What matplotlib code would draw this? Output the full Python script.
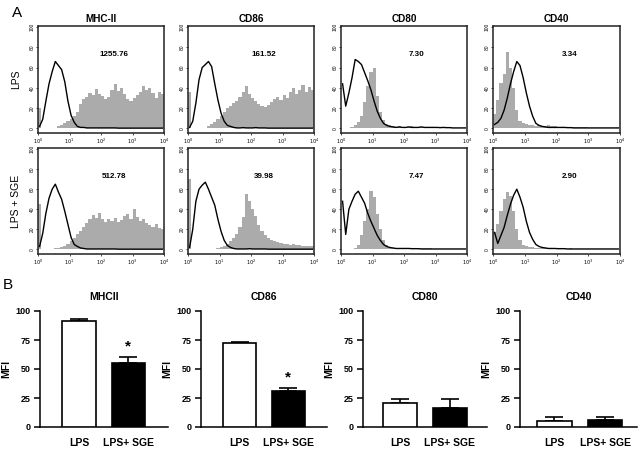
import numpy as np
import matplotlib
matplotlib.use("Agg")
import matplotlib.pyplot as plt

plt.rcParams['font.family'] = ['Liberation Sans', 'DejaVu Sans']

# ---- panel A: flow cytometry histograms (log10 fluorescence, 0.1-decade bins) ----
markers_a = ['MHC-II', 'CD86', 'CD80', 'CD40']
rows_a = ['LPS', 'LPS + SGE']
mfi_text = [['1255.76', '161.52', '7.30', '3.34'],
            ['512.78', '39.98', '7.47', '2.90']]
log_edges = np.linspace(0, 4, 41)

# stained sample (grey filled)
lps_mhc_fill = [20, 0, 0, 0, 0, 0, 2, 3, 5, 7, 9, 12, 16, 24, 29, 31, 35, 33, 39, 34,
                32, 29, 31, 38, 44, 37, 40, 34, 29, 27, 30, 33, 36, 42, 38, 40, 35, 30, 36, 34]
lps_cd86_fill = [36, 0, 0, 0, 0, 0, 2, 4, 6, 9, 12, 16, 20, 22, 25, 27, 31, 36, 42, 34,
                 30, 27, 24, 22, 21, 23, 26, 29, 31, 28, 33, 30, 36, 40, 34, 38, 43, 36, 41, 38]
lps_cd80_fill = [0, 0, 0, 1, 3, 6, 12, 26, 42, 56, 60, 32, 16, 8, 4, 3, 2, 1.5, 2, 1,
                 1.5, 1, 2, 1, 1.5, 1, 1, 1.5, 1, 1, 0.5, 0.5, 0.8, 0.5, 0.5, 0.5, 0.5, 0.5, 0.5, 0.5]
lps_cd40_fill = [14, 28, 45, 54, 75, 60, 40, 18, 7, 5, 4, 3, 3, 2, 3, 2, 2, 3, 2, 2,
                 1.5, 1, 1.5, 1, 1, 1.5, 1, 1, 1, 1, 0.8, 0.8, 0.5, 0.5, 0.5, 0.5, 0.5, 0.5, 0.5, 0.5]
sge_mhc_fill = [45, 0, 0, 0, 0, 1, 1, 2, 3, 5, 8, 11, 15, 18, 22, 26, 30, 34, 31, 36,
                30, 27, 30, 28, 31, 27, 29, 33, 35, 30, 40, 32, 28, 30, 26, 24, 22, 25, 21, 20]
sge_cd86_fill = [70, 0, 0, 0, 0, 0, 0, 0, 0, 1, 2, 3, 5, 8, 11, 15, 22, 32, 55, 48,
                 40, 33, 24, 18, 14, 11, 9, 8, 7, 6, 5, 5, 4, 5, 4, 4, 3, 3, 3, 3]
sge_cd80_fill = [0, 0, 0, 0, 1, 4, 14, 28, 40, 58, 52, 35, 20, 9, 4, 2, 1.5, 1, 1.5, 1,
                 1, 1, 1.5, 1, 1, 1, 1, 1, 1, 0.5, 0.5, 0.5, 0.5, 0.5, 0.5, 0.5, 0.5, 0.5, 0.5, 0.5]
sge_cd40_fill = [17, 25, 38, 50, 57, 53, 38, 20, 9, 4, 3, 2, 2, 1.5, 1.5, 1, 1.5, 1, 1, 1,
                 1, 1, 1, 0.8, 1, 0.8, 0.8, 0.5, 0.5, 0.5, 0.5, 0.5, 0.5, 0.5, 0.5, 0.5, 0.5, 0.5, 0.5, 0.5]

# isotype control (black outline)
lps_mhc_iso = [2, 9, 27, 44, 56, 66, 62, 58, 46, 27, 13, 6, 2, 1, 1, 0.5, 0.5, 0.5, 0.5, 0.5,
               0.5, 0.5, 0.5, 0.5, 0.5, 0.3, 0.3, 0.3, 0.3, 0.3, 0.3, 0.3, 0.3, 0.3, 0.3, 0.3, 0.3, 0.3, 0.3, 0.3]
lps_cd86_iso = [1, 7, 25, 48, 60, 63, 66, 61, 44, 28, 15, 7, 3, 2, 1, 0.5, 0.5, 0.8, 0.5, 0.5,
                0.5, 0.8, 0.5, 0.5, 0.5, 0.3, 0.3, 0.3, 0.3, 0.3, 0.3, 0.3, 0.3, 0.3, 0.3, 0.3, 0.3, 0.3, 0.3, 0.3]
lps_cd80_iso = [44, 22, 35, 50, 68, 66, 63, 55, 47, 38, 27, 17, 10, 5, 3, 2, 1.5, 1, 1.5, 1,
                1, 1.5, 1, 1, 1, 1.5, 1, 1, 1, 1, 1, 0.8, 1, 0.8, 0.8, 0.5, 0.5, 0.5, 0.5, 0.5]
lps_cd40_iso = [4, 6, 10, 18, 30, 44, 56, 66, 62, 50, 35, 22, 12, 5, 3, 2, 1.5, 1, 1, 1,
                1, 1, 1, 0.8, 0.8, 0.5, 0.5, 0.5, 0.5, 0.5, 0.5, 0.5, 0.5, 0.5, 0.5, 0.5, 0.5, 0.5, 0.5, 0.5]
sge_mhc_iso = [3, 16, 36, 51, 60, 65, 57, 50, 38, 25, 12, 5, 3, 1.5, 1, 0.5, 0.5, 0.5, 0.5, 0.5,
               0.5, 0.5, 0.5, 0.5, 0.5, 0.3, 0.3, 0.3, 0.3, 0.3, 0.3, 0.3, 0.3, 0.3, 0.3, 0.3, 0.3, 0.3, 0.3, 0.3]
sge_cd86_iso = [2, 20, 48, 60, 64, 67, 60, 52, 44, 30, 18, 9, 4, 2, 1, 0.5, 0.5, 0.5, 0.5, 0.8,
                0.5, 0.5, 0.5, 0.5, 0.5, 0.3, 0.3, 0.3, 0.3, 0.3, 0.3, 0.3, 0.3, 0.3, 0.3, 0.3, 0.3, 0.3, 0.3, 0.3]
sge_cd80_iso = [48, 15, 40, 48, 55, 58, 52, 46, 36, 28, 21, 14, 9, 5, 3, 2, 1.5, 1, 1, 1,
                1, 1, 0.8, 0.8, 0.8, 0.5, 0.5, 0.5, 0.5, 0.5, 0.5, 0.5, 0.5, 0.5, 0.5, 0.5, 0.5, 0.5, 0.5, 0.5]
sge_cd40_iso = [17, 6, 14, 22, 34, 45, 54, 60, 52, 42, 28, 17, 10, 5, 3, 2, 1.5, 1, 1, 1,
                0.8, 0.8, 0.8, 0.5, 0.5, 0.5, 0.5, 0.5, 0.5, 0.5, 0.5, 0.5, 0.5, 0.5, 0.5, 0.5, 0.5, 0.5, 0.5, 0.5]

fills = [[lps_mhc_fill, lps_cd86_fill, lps_cd80_fill, lps_cd40_fill],
         [sge_mhc_fill, sge_cd86_fill, sge_cd80_fill, sge_cd40_fill]]
isos = [[lps_mhc_iso, lps_cd86_iso, lps_cd80_iso, lps_cd40_iso],
        [sge_mhc_iso, sge_cd86_iso, sge_cd80_iso, sge_cd40_iso]]

# ---- panel B: MFI bar charts ----
markers_b = ['MHCII', 'CD86', 'CD80', 'CD40']
groups_b = ['LPS', 'LPS+ SGE']
mfi_lps = [91, 72.5, 21, 5]
mfi_sge = [55, 31, 16, 6]
err_lps = [2, 0.6, 3, 4]
err_sge = [5, 2.5, 8, 3]
signif = [True, True, False, False]

W, H = 640, 449
fig = plt.figure(figsize=(W / 100, H / 100), dpi=100)


def px_axes(x0, y0, x1, y1):
    # box given in pixel coords (top-left origin)
    return fig.add_axes([x0 / W, 1 - y1 / H, (x1 - x0) / W, (y1 - y0) / H])


col_x = [(38, 164), (188, 314), (341, 467), (493, 620)]
row_y = [(26, 133), (148, 254)]
grey = '#ababab'
bin_mid = (log_edges[:-1] + log_edges[1:]) / 2

for r in range(2):
    for c in range(4):
        ax = px_axes(col_x[c][0], row_y[r][0], col_x[c][1], row_y[r][1])
        ax.stairs(fills[r][c], log_edges, fill=True, color=grey, lw=0)
        ax.plot(bin_mid, isos[r][c], color='black', lw=1.0)
        ax.set_xlim(0, 4)
        ax.set_ylim(-4.5, 101)
        ax.set_xticks(range(5))
        ax.set_xticklabels([r'$10^{%d}$' % k for k in range(5)], fontsize=3.5)
        ax.set_yticks(range(0, 101, 20))
        ax.set_yticklabels([str(v) for v in range(0, 101, 20)], fontsize=3.5,
                           rotation=90, va='center')
        ax.tick_params(length=1.5, width=0.5, pad=1)
        for s in ax.spines.values():
            s.set_linewidth(1.1)
            s.set_color('#222222')
        ax.text(2.4, 73, mfi_text[r][c], fontsize=5.8, fontweight='bold',
                ha='center', va='center')
        if r == 0:
            ax.set_title(markers_a[c], fontsize=7.2, fontweight='bold', pad=3)
        if c == 0:
            fig.text(16 / W, 1 - (sum(row_y[r]) / 2) / H, rows_a[r], rotation=90,
                     fontsize=7.5, ha='center', va='center')

fig.text(17 / W, 1 - 13 / H, 'A', fontsize=11, ha='center', va='center')
fig.text(8 / W, 1 - 285 / H, 'B', fontsize=11, ha='center', va='center')

bar_axes = [(40, 168), (201, 327), (363, 487), (520, 637)]
bar_xlim = [(-0.79, 1.8), (-0.79, 1.79), (-0.74, 1.74), (-0.68, 1.63)]

for i in range(4):
    ax = px_axes(bar_axes[i][0], 311, bar_axes[i][1], 427)
    ax.bar([0, 1], [mfi_lps[i], mfi_sge[i]], width=0.68,
           color=['white', 'black'], edgecolor='black', lw=1.2, zorder=3)
    ax.errorbar([0, 1], [mfi_lps[i], mfi_sge[i]],
                yerr=[[0, 0], [err_lps[i], err_sge[i]]], fmt='none',
                ecolor='black', elinewidth=1.2, capsize=6.5, capthick=1.2, zorder=2)
    if signif[i]:
        ax.text(1, mfi_sge[i] + err_sge[i] + 3, '*', fontsize=11, fontweight='bold',
                ha='center', va='bottom')
    ax.set_xlim(*bar_xlim[i])
    ax.set_ylim(0, 100)
    ax.set_yticks([0, 25, 50, 75, 100])
    ax.set_xticks([0, 1])
    ax.set_xticklabels(groups_b, fontsize=7.5, fontweight='bold')
    ax.tick_params(axis='x', length=0, pad=8)
    ax.tick_params(axis='y', length=4, width=1.1, labelsize=6.5, pad=3)
    for lab in ax.get_yticklabels():
        lab.set_fontweight('bold')
    ax.spines['top'].set_visible(False)
    ax.spines['right'].set_visible(False)
    ax.spines['left'].set_linewidth(1.1)
    ax.spines['bottom'].set_linewidth(1.1)
    ax.set_ylabel('MFI', fontsize=7.5, fontweight='bold', labelpad=3)
    ax.set_title(markers_b[i], fontsize=7.5, fontweight='bold', pad=8)

fig.savefig('out.png', dpi=100)
